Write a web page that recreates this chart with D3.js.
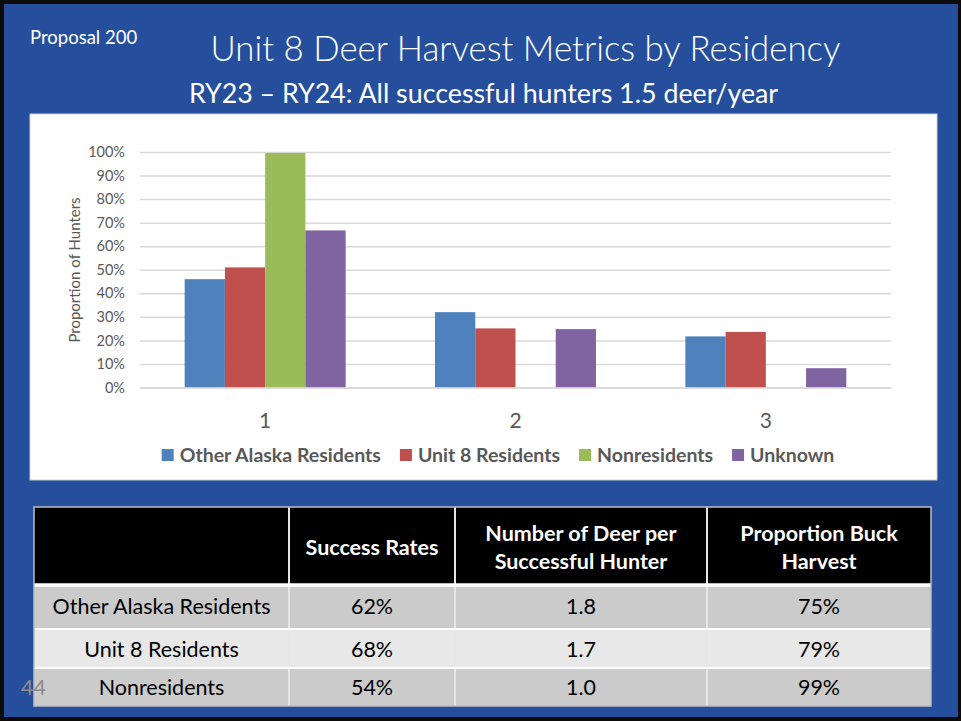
<!DOCTYPE html>
<html><head><meta charset="utf-8">
<script src="https://cdn.jsdelivr.net/npm/d3@7"></script>
<style>html,body{margin:0;padding:0;background:#fff;}svg{display:block;}</style>
</head><body>
<svg id="c" width="961" height="721"></svg>
<script>
// ---------- data ----------
const categories = ["1", "2", "3"];
const seriesNames = ["Other Alaska Residents", "Unit 8 Residents", "Nonresidents", "Unknown"];
const otherAlaska = [0.46, 0.32, 0.217];
const unit8 = [0.51, 0.251, 0.236];
const nonresidents = [0.996, 0, 0];
const unknown = [0.667, 0.248, 0.082];
const yTicks = [0, 0.1, 0.2, 0.3, 0.4, 0.5, 0.6, 0.7, 0.8, 0.9, 1.0];
const seriesColors = ["#4f81bd", "#c0504d", "#9bbb59", "#8064a2"];

const tableHeaders = ["", "Success Rates", "Number of Deer per|Successful Hunter", "Proportion Buck|Harvest"];
const rowLabels = ["Other Alaska Residents", "Unit 8 Residents", "Nonresidents"];
const successRates = ["62%", "68%", "54%"];
const deerPerHunter = ["1.8", "1.7", "1.0"];
const buckProportion = ["75%", "79%", "99%"];

const seriesValues = [otherAlaska, unit8, nonresidents, unknown];

// ---------- drawing ----------
const svg = d3.select("#c");
const FONT = "Lato, 'Open Sans', sans-serif";

// slide frame
svg.append("rect").attr("x", 0).attr("y", 0).attr("width", 961).attr("height", 721).attr("fill", "#0b0b0b");
svg.append("rect").attr("x", 4).attr("y", 4).attr("width", 954).attr("height", 713).attr("fill", "#254f9c");

// titles
svg.append("text").attr("x", 30).attr("y", 44).attr("font-family", FONT).attr("font-size", 18.5)
  .attr("fill", "#fff").text("Proposal 200");
svg.append("text").attr("x", 525.5).attr("y", 61).attr("text-anchor", "middle").attr("font-family", FONT)
  .attr("font-weight", 300).attr("font-size", 34.8).attr("fill", "#fff").text("Unit 8 Deer Harvest Metrics by Residency");
svg.append("text").attr("x", 483.5).attr("y", 103).attr("text-anchor", "middle").attr("font-family", FONT)
  .attr("font-size", 26.8).attr("fill", "#fff").text("RY23 \u2013 RY24: All successful hunters 1.5 deer/year");

// chart panel
svg.append("rect").attr("x", 30).attr("y", 114).attr("width", 907).attr("height", 366)
  .attr("fill", "#fff").attr("stroke", "#d0d0d0").attr("stroke-width", 1);

const plot = { left: 140, right: 891, top: 152, bottom: 387.5 };
const y = d3.scaleLinear().domain([0, 1]).range([plot.bottom, plot.top]);
const x0 = d3.scaleBand().domain(categories).range([plot.left, plot.right]).paddingInner(0.357).paddingOuter(0.1785);
const x1 = d3.scaleBand().domain(seriesNames).range([0, x0.bandwidth()]);

// gridlines
const yAxis = d3.axisLeft(y).tickValues(yTicks).tickFormat(d3.format(".0%")).tickSize(-(plot.right - plot.left)).tickPadding(15);
const ga = svg.append("g").attr("transform", `translate(${plot.left},0)`).call(yAxis);
ga.select(".domain").remove();
ga.selectAll(".tick line").attr("stroke", "#d9d9d9").attr("stroke-width", 1.5);
ga.selectAll(".tick text").attr("fill", "#595959").attr("font-family", FONT).attr("font-size", 14.5);

// y axis title
svg.append("text").attr("transform", "translate(80,270) rotate(-90)").attr("text-anchor", "middle")
  .attr("font-family", FONT).attr("font-size", 15).attr("fill", "#595959").text("Proportion of Hunters");

// bars
const groups = svg.append("g").selectAll("g").data(categories).join("g")
  .attr("transform", d => `translate(${x0(d)},0)`);
groups.selectAll("rect").data((c, ci) => seriesNames.map((s, si) => ({ s, si, v: seriesValues[si][ci] })))
  .join("rect")
  .attr("x", d => x1(d.s)).attr("width", x1.bandwidth())
  .attr("y", d => y(d.v)).attr("height", d => y(0) - y(d.v))
  .attr("fill", d => seriesColors[d.si]);

// category axis labels
const xAxis = d3.axisBottom(x0).tickSize(0).tickPadding(0);
const gx = svg.append("g").attr("transform", `translate(0,${plot.bottom})`).call(xAxis);
gx.select(".domain").attr("stroke", "#d9d9d9").attr("stroke-width", 1.5);
gx.selectAll(".tick text").attr("fill", "#595959").attr("font-family", FONT).attr("font-size", 21)
  .attr("dy", 0).attr("y", 40);

// legend
const legend = svg.append("g");
const items = legend.selectAll("g").data(seriesNames).join("g");
items.append("rect").attr("width", 12).attr("height", 12).attr("y", -6).attr("fill", (d, i) => seriesColors[i]);
items.append("text").attr("x", 18).attr("dy", "0.35em").attr("font-family", FONT).attr("font-weight", 700)
  .attr("font-size", 19.5).attr("fill", "#595959").text(d => d);
const widths = [];
items.each(function () { widths.push(18 + this.querySelector("text").getComputedTextLength()); });
const gap = 19;
const totalW = d3.sum(widths) + gap * (widths.length - 1);
let cx = 498 - totalW / 2;
items.attr("transform", (d, i) => { const t = `translate(${cx},455)`; cx += widths[i] + gap; return t; });

// ---------- table ----------
const colX = [34, 289, 455, 707, 931];
const rowY = [507, 585, 629, 668, 706];
const rowFills = ["#000", "#cbcbcb", "#e8e8e8", "#cbcbcb"];
const tbl = svg.append("g");
for (let r = 0; r < 4; r++) {
  tbl.append("rect").attr("x", colX[0]).attr("y", rowY[r]).attr("width", colX[4] - colX[0]).attr("height", rowY[r + 1] - rowY[r]).attr("fill", rowFills[r]);
}
// header texts
tableHeaders.forEach((h, ci) => {
  if (!h) return;
  const lines = h.split("|");
  const cxm = (colX[ci] + colX[ci + 1]) / 2;
  const t = tbl.append("text").attr("text-anchor", "middle").attr("font-family", FONT).attr("font-weight", 700)
    .attr("font-size", 21.5).attr("fill", "#fff");
  if (lines.length === 1) t.append("tspan").attr("x", cxm).attr("y", 555).text(lines[0]);
  else lines.forEach((l, li) => t.append("tspan").attr("x", cxm).attr("y", 541 + li * 28).text(l));
});
// body
const bodyCols = [rowLabels, successRates, deerPerHunter, buckProportion];
const baselines = [613.5, 656.5, 694.5];
bodyCols.forEach((col, ci) => {
  col.forEach((v, ri) => {
    tbl.append("text").attr("x", (colX[ci] + colX[ci + 1]) / 2).attr("y", baselines[ri]).attr("text-anchor", "middle")
      .attr("font-family", FONT).attr("font-size", 21.5).attr("fill", "#000").text(v);
  });
});
// grid lines
colX.slice(1, 4).forEach(xv => tbl.append("line").attr("x1", xv).attr("x2", xv).attr("y1", rowY[0]).attr("y2", rowY[4]).attr("stroke", "#e6e6e6").attr("stroke-width", 2));
tbl.append("line").attr("x1", colX[0]).attr("x2", colX[4]).attr("y1", rowY[1]).attr("y2", rowY[1]).attr("stroke", "#fff").attr("stroke-width", 3.5);
[rowY[2], rowY[3]].forEach(yv => tbl.append("line").attr("x1", colX[0]).attr("x2", colX[4]).attr("y1", yv).attr("y2", yv).attr("stroke", "#fff").attr("stroke-width", 2));
tbl.append("rect").attr("x", colX[0]).attr("y", rowY[0]).attr("width", colX[4] - colX[0]).attr("height", rowY[4] - rowY[0])
  .attr("fill", "none").attr("stroke", "#bfbfbf").attr("stroke-width", 1.5);

// slide number
svg.append("text").attr("x", 21).attr("y", 694.5).attr("font-family", FONT).attr("font-size", 21.5)
  .attr("fill", "#8c8c8c").text("44");
</script>
</body></html>
